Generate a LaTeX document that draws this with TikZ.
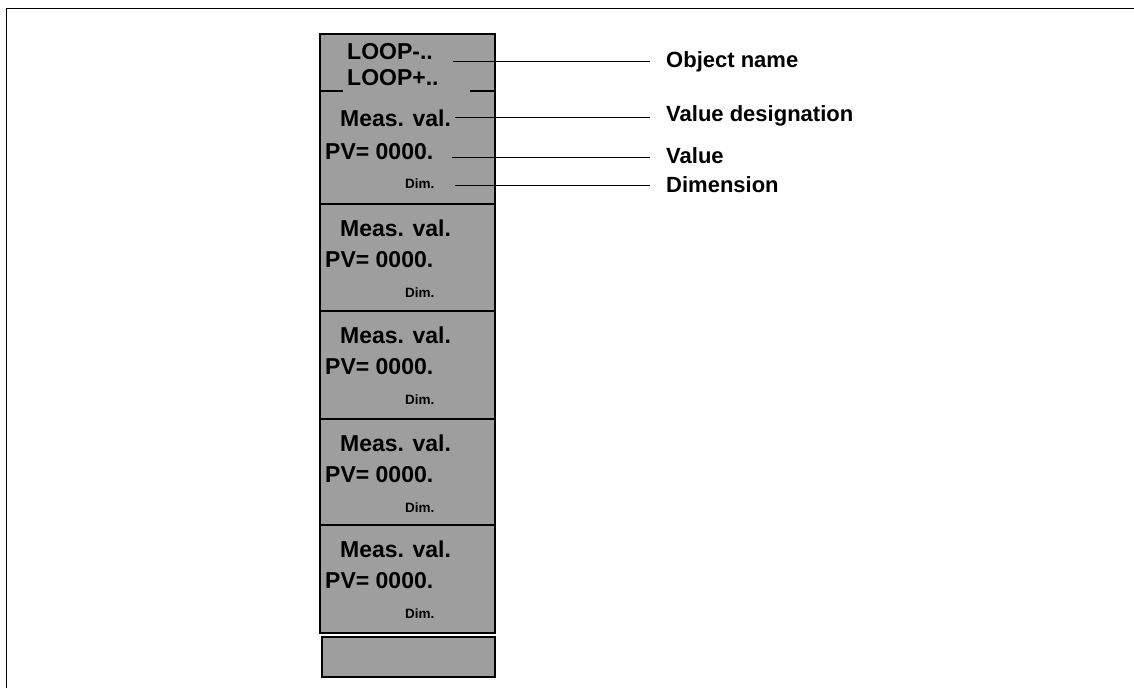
\documentclass[tikz,border=0pt]{standalone}
\usepackage{fontspec}
\setmainfont{Liberation Sans}
\begin{document}
\begin{tikzpicture}[x=1pt,y=-1pt,
  panel/.style={draw=black,line width=1.3pt,fill=black!38},
  rule/.style={draw=black,line width=1.1pt},
  big/.style={inner sep=0pt,anchor=base west,font=\bfseries\fontsize{23}{23}\selectfont},
  small/.style={inner sep=0pt,anchor=base west,font=\bfseries\fontsize{13.5}{14}\selectfont},
  caption/.style={inner sep=0pt,anchor=base west,font=\bfseries\fontsize{22}{22}\selectfont},
  leader/.style={draw=black,line width=0.8pt}]
\useasboundingbox (0,0) rectangle (1134,688);

% outer frame (top and left edges)
\draw[line width=1pt] (6,688) -- (6,8) -- (1134,8);

% display column
\path[panel] (320,34) rectangle (495,633);
\foreach \yy in {204,311,419,525}
  \draw[rule] (320,\yy) -- (495,\yy);
\draw[rule] (320,91) -- (343,91);
\draw[rule] (470,91) -- (495,91);
\path[panel] (322,637) rectangle (495,677);

% object name
\node[big] (n1) at (347,59) {LOOP-..};
\node[big] (n2) at (347,85) {LOOP+..};

% first measured value block
\node[big] (m1) at (340,126) {Meas. val.};
\node[big] (v1) at (325,159) {PV= 0000.};
\node[small] (d1) at (405,188) {Dim.};

% further measured value blocks
\foreach \t/\i in {204/2,311/3,419/4,525/5}{
  \node[big] (m\i) at (340,\t+32) {Meas. val.};
  \node[big] (v\i) at (325,\t+63) {PV= 0000.};
  \node[small] (d\i) at (405,\t+93) {Dim.};
}

% captions
\node[caption] (lobj) at (666,67) {Object name};
\node[caption] (ldes) at (666,121) {Value designation};
\node[caption] (lval) at (666,163) {Value};
\node[caption] (ldim) at (666,192) {Dimension};

% leader lines
\coordinate (pobj) at (453,61);
\coordinate (pdes) at (455,117);
\coordinate (pval) at (452,157);
\coordinate (pdim) at (455,185);
\draw[leader] (pobj) -- ([xshift=-16pt]lobj.west |- pobj);
\draw[leader] (pdes) -- ([xshift=-16pt]ldes.west |- pdes);
\draw[leader] (pval) -- ([xshift=-16pt]lval.west |- pval);
\draw[leader] (pdim) -- ([xshift=-16pt]ldim.west |- pdim);
\end{tikzpicture}
\end{document}
